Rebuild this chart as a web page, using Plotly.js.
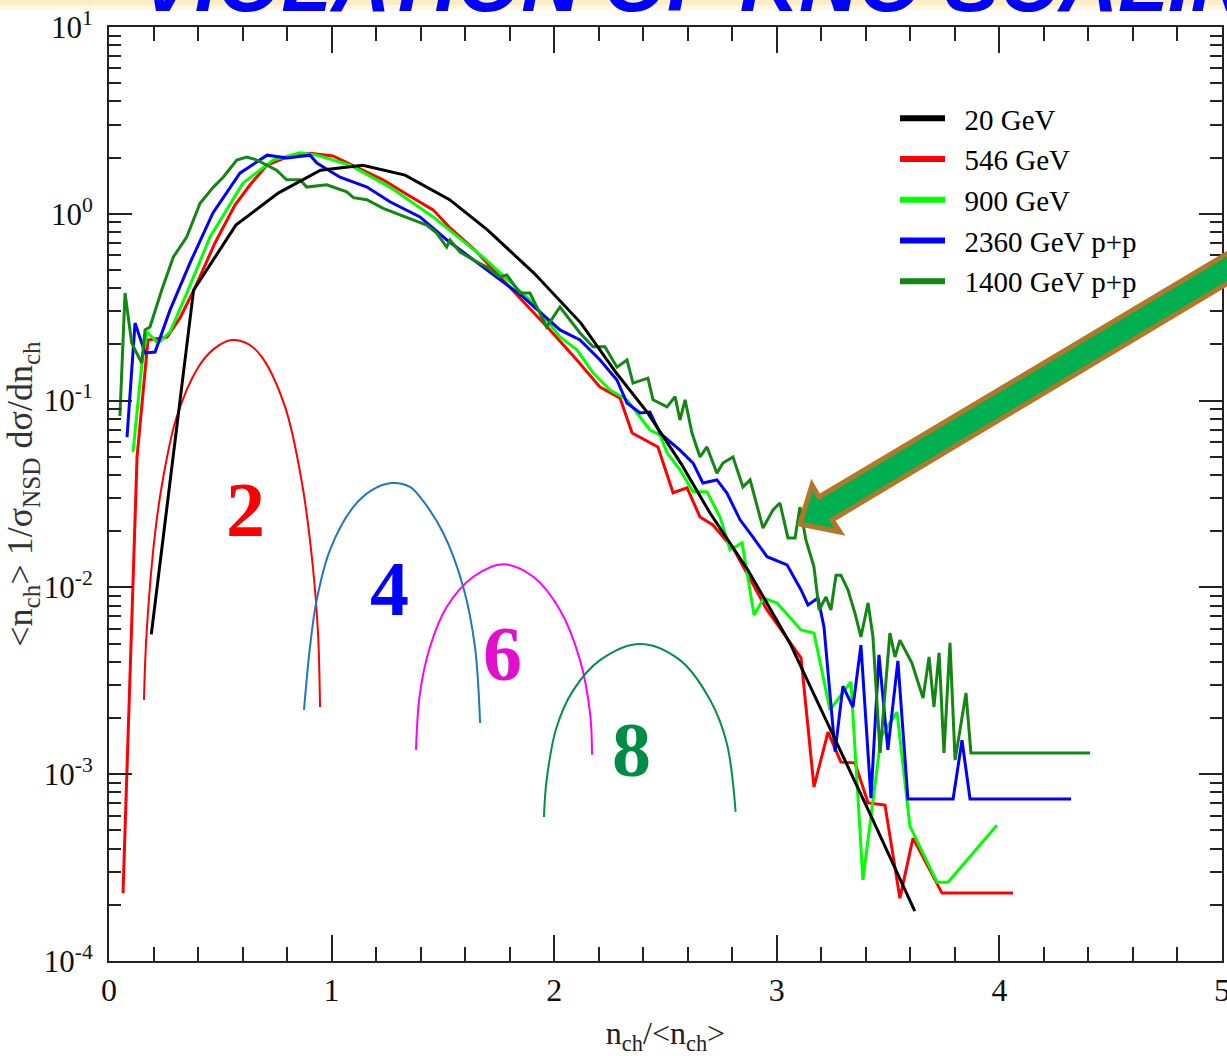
<!DOCTYPE html>
<html><head><meta charset="utf-8">
<script src="https://cdn.plot.ly/plotly-3.0.1.min.js"></script>
<style>html,body{margin:0;padding:0;background:#fff;overflow:hidden;} #chart{width:1227px;height:1056px;}</style>
</head><body><div id="chart"></div>
<script>
// ---------------- data ----------------
const seriesNames = ['20 GeV', '546 GeV', '900 GeV', '2360 GeV p+p', '1400 GeV p+p'];
const seriesColors = ['#000000', '#ff0000', '#00ff00', '#0000ff', '#138613'];

const x20 = [0.19, 0.38, 0.57, 0.76, 0.95, 1.14, 1.33, 1.53, 1.70, 1.91, 2.12, 2.28, 2.42, 2.57, 2.70, 2.87, 3.06, 3.24, 3.42, 3.62];
const y20 = [0.0056, 0.39, 0.87, 1.29, 1.71, 1.82, 1.61, 1.19, 0.82, 0.48, 0.26, 0.14, 0.086, 0.046, 0.025, 0.0124, 0.0050, 0.00175, 0.00061, 0.000185];

const x546 = [0.063, 0.126, 0.175, 0.220, 0.261, 0.319, 0.386, 0.476, 0.566, 0.633, 0.710, 0.791, 0.903, 1.006, 1.119, 1.231, 1.343, 1.456, 1.532, 1.644, 1.757, 1.869, 1.981, 2.094, 2.206, 2.296, 2.350, 2.466, 2.534, 2.597, 2.655, 2.713, 2.808, 2.956, 3.019, 3.109, 3.167, 3.230, 3.288, 3.351, 3.410, 3.486, 3.553, 3.612, 3.742, 4.061];
const y546 = [2.31e-4, 0.0499, 0.211, 0.216, 0.219, 0.277, 0.401, 0.698, 1.114, 1.426, 1.824, 1.99, 2.11, 2.04, 1.76, 1.52, 1.26, 1.05, 0.84, 0.64, 0.459, 0.333, 0.239, 0.169, 0.118, 0.103, 0.0671, 0.0565, 0.0321, 0.0341, 0.0238, 0.0216, 0.0159, 0.00757, 0.00592, 0.00419, 0.000855, 0.00168, 0.00116, 0.00115, 0.000702, 0.000684, 0.000217, 0.000455, 0.000231, 0.000231];

const x900 = [0.108, 0.148, 0.171, 0.220, 0.274, 0.350, 0.454, 0.602, 0.737, 0.858, 0.934, 1.083, 1.262, 1.456, 1.680, 1.905, 2.026, 2.102, 2.174, 2.251, 2.327, 2.385, 2.430, 2.475, 2.507, 2.565, 2.624, 2.686, 2.745, 2.790, 2.844, 2.898, 2.942, 3.001, 3.109, 3.167, 3.239, 3.333, 3.387, 3.468, 3.540, 3.598, 3.720, 3.769, 3.989];
const y900 = [0.0531, 0.159, 0.233, 0.203, 0.233, 0.377, 0.751, 1.46, 1.94, 2.12, 2.06, 1.82, 1.39, 0.962, 0.587, 0.333, 0.219, 0.187, 0.141, 0.114, 0.101, 0.0817, 0.0696, 0.0655, 0.0525, 0.0426, 0.0325, 0.0325, 0.0238, 0.0159, 0.0173, 0.00712, 0.00877, 0.00824, 0.00592, 0.00570, 0.00221, 0.00312, 0.000272, 0.00158, 0.00215, 0.000527, 0.000264, 0.000264, 0.000533];

const x2360 = [0.081, 0.117, 0.162, 0.207, 0.274, 0.364, 0.467, 0.588, 0.710, 0.800, 0.903, 0.934, 1.038, 1.159, 1.262, 1.397, 1.518, 1.680, 1.860, 2.026, 2.116, 2.206, 2.282, 2.327, 2.386, 2.430, 2.475, 2.565, 2.624, 2.668, 2.731, 2.776, 2.835, 2.893, 2.956, 3.046, 3.109, 3.140, 3.185, 3.212, 3.262, 3.297, 3.342, 3.378, 3.423, 3.459, 3.499, 3.544, 3.589, 3.792, 3.832, 3.868, 4.322];
const y2360 = [0.0638, 0.260, 0.180, 0.182, 0.305, 0.546, 1.01, 1.65, 2.06, 1.99, 2.06, 1.87, 1.57, 1.39, 1.16, 0.962, 0.724, 0.519, 0.359, 0.239, 0.211, 0.165, 0.129, 0.0970, 0.0859, 0.0869, 0.0670, 0.0543, 0.0463, 0.0362, 0.0376, 0.0320, 0.0230, 0.0186, 0.0146, 0.0132, 0.00969, 0.00805, 0.00877, 0.00614, 0.00132, 0.00296, 0.00229, 0.00491, 0.000745, 0.00435, 0.00135, 0.00404, 0.000736, 0.000736, 0.00152, 0.000736, 0.000736];

const x1400 = [0.049, 0.072, 0.102, 0.147, 0.162, 0.184, 0.237, 0.289, 0.349, 0.409,
  0.469, 0.513, 0.574, 0.619, 0.664, 0.753, 0.798, 0.858, 0.888, 0.978,
  1.068, 1.098, 1.158, 1.232, 1.307, 1.367, 1.427, 1.472, 1.517, 1.532,
  1.577, 1.637, 1.697, 1.756, 1.787, 1.846, 1.891, 1.966, 2.026, 2.071,
  2.116, 2.174, 2.228, 2.282, 2.327, 2.354, 2.421, 2.444, 2.507, 2.543,
  2.565, 2.588, 2.619, 2.655, 2.686, 2.731, 2.758, 2.803, 2.848, 2.880,
  2.938, 2.983, 3.014, 3.050, 3.082, 3.104, 3.131, 3.167, 3.190, 3.221,
  3.243, 3.266, 3.288, 3.320, 3.351, 3.378, 3.410, 3.432, 3.464, 3.508,
  3.531, 3.553, 3.607, 3.657, 3.684, 3.706, 3.729, 3.751, 3.778, 3.801,
  3.850, 3.872, 4.407];
const y1400 = [0.0826, 0.377, 0.203, 0.159, 0.239, 0.248, 0.391, 0.587, 0.751, 1.14,
  1.39, 1.57, 1.94, 2.01, 1.94, 1.71, 1.52, 1.52, 1.39, 1.43,
  1.31, 1.22, 1.19, 1.07, 0.986, 0.927, 0.871, 0.789, 0.664, 0.724,
  0.624, 0.566, 0.519, 0.459, 0.471, 0.377, 0.377, 0.248, 0.317, 0.270,
  0.230, 0.194, 0.194, 0.151, 0.165, 0.124, 0.132, 0.101, 0.0925, 0.105,
  0.0787, 0.101, 0.0670, 0.0499, 0.0565, 0.0409, 0.0463, 0.0499, 0.0345, 0.0376,
  0.0208, 0.0260, 0.0283, 0.0184, 0.0184, 0.0269, 0.0179, 0.0129, 0.00757, 0.00889,
  0.00757, 0.0116, 0.0116, 0.00969, 0.00729, 0.00543, 0.00826, 0.00543, 0.00130, 0.00570,
  0.00424, 0.00522, 0.00394, 0.00256, 0.00424, 0.00229, 0.00446, 0.00130, 0.00505, 0.00119,
  0.00272, 0.00130, 0.00130];

// illustrative arcs labelled 2, 4, 6, 8
const arcLabels = ['2', '4', '6', '8'];
const arcColors = ['#ff0000', '#1f77c0', '#ff00ff', '#00904a'];
const arcLabelColors = ['#ff0000', '#0000ff', '#e010cc', '#008c45'];
const arc2X = [0.157, 0.169, 0.207, 0.244, 0.304, 0.401, 0.476, 0.552, 0.624, 0.687, 0.791, 0.867, 0.916, 0.939, 0.948];
const arc2Y = [0.00250, 0.00570, 0.0195, 0.0390, 0.0817, 0.151, 0.191, 0.211, 0.201, 0.171, 0.0925, 0.0362, 0.0129, 0.00570, 0.00229];
const arc4X = [0.876, 0.903, 0.933, 0.993, 1.097, 1.181, 1.270, 1.352, 1.397, 1.502, 1.592, 1.644, 1.667];
const arc4Y = [0.00221, 0.00480, 0.00857, 0.0159, 0.0269, 0.0332, 0.0362, 0.0345, 0.0305, 0.0195, 0.0100, 0.00480, 0.00188];
const arc6X = [1.379, 1.397, 1.442, 1.517, 1.637, 1.771, 1.906, 2.026, 2.116, 2.161, 2.170];
const arc6Y = [0.00135, 0.00272, 0.00480, 0.00785, 0.0114, 0.0133, 0.0114, 0.00757, 0.00408, 0.00213, 0.00127];
const arc8X = [1.954, 1.966, 2.011, 2.086, 2.206, 2.385, 2.565, 2.700, 2.775, 2.815];
const arc8Y = [0.000590, 0.000931, 0.00179, 0.00282, 0.00408, 0.00498, 0.00408, 0.00250, 0.00147, 0.000628];

const yTickVals = [1e-4, 1e-3, 1e-2, 1e-1, 1, 10];
const yTickText = ['10<sup>-4</sup>', '10<sup>-3</sup>', '10<sup>-2</sup>', '10<sup>-1</sup>', '10<sup>0</sup>', '10<sup>1</sup>'];

// ---------------- layout helpers ----------------
const W = 1227, H = 1056, ML = 109, MR = 5, MT = 27, MB = 95;
const PW = W - ML - MR, PH = H - MT - MB;
const px2x = px => (px - ML) / PW;
const py2y = py => (H - MB - py) / PH;

const minorY = [];
for (let e = -4; e < 1; e++) for (let m = 2; m <= 9; m++) minorY.push(m * Math.pow(10, e));

const serif = 'Liberation Serif, Times New Roman, serif';
const seriesX = [x20, x546, x900, x2360, x1400];
const seriesY = [y20, y546, y900, y2360, y1400];
const drawOrder = [1, 2, 3, 4, 0];

const traces = [];
// arcs
[[arc2X, arc2Y], [arc4X, arc4Y], [arc6X, arc6Y], [arc8X, arc8Y]].forEach((a, i) => {
  traces.push({x: a[0], y: a[1], type: 'scatter', mode: 'lines', showlegend: false, hoverinfo: 'skip',
    line: {color: arcColors[i], width: 2, shape: 'spline', smoothing: 1}});
});
// data series
drawOrder.forEach(i => {
  traces.push({x: seriesX[i], y: seriesY[i], type: 'scatter', mode: 'lines', name: seriesNames[i],
    showlegend: false, line: {color: seriesColors[i], width: 3}});
});
// legend entries (thicker sample lines)
seriesNames.forEach((n, i) => {
  traces.push({x: [null], y: [null], type: 'scatter', mode: 'lines', name: '\u00a0\u00a0' + n, showlegend: true,
    line: {color: seriesColors[i], width: 6}});
});

// arrow (pixel geometry -> paper)
const arrowPx = [[800, 524], [812, 485], [819, 497], [1240, 246], [1253, 268], [832, 520], [840, 532]];
const arrowPath = 'M' + arrowPx.map(p => px2x(p[0]).toFixed(5) + ',' + py2y(p[1]).toFixed(5)).join(' L') + ' Z';

const labelPos = [[245.5, 509], [389, 588], [502.5, 653], [631, 749]];
const annotations = arcLabels.map((t, i) => ({
  xref: 'paper', yref: 'paper', x: px2x(labelPos[i][0]), y: py2y(labelPos[i][1]),
  xanchor: 'center', yanchor: 'middle', showarrow: false, text: t,
  font: {family: serif, size: 78, color: arcLabelColors[i], weight: 'bold'}
}));
// clipped slide title
annotations.push({xref: 'paper', yref: 'paper', x: px2x(138), y: py2y(-18), xanchor: 'left', yanchor: 'middle',
  showarrow: false, text: 'VIOLATION OF KNO SCALING',
  font: {family: 'Liberation Sans, Arial, sans-serif', size: 82, color: '#0000ff', weight: 'bold', style: 'italic'}});

const axisCommon = {
  showgrid: false, zeroline: false, showline: true, linecolor: '#222', linewidth: 2,
  mirror: 'ticks', ticks: 'inside', tickcolor: '#222', tickwidth: 2
};

const layout = {
  width: W, height: H,
  margin: {l: ML, r: MR, t: MT, b: MB, pad: 0},
  paper_bgcolor: '#ffffff', plot_bgcolor: '#ffffff',
  showlegend: true,
  legend: {x: px2x(895), xanchor: 'left', y: py2y(93), yanchor: 'top', bgcolor: 'rgba(0,0,0,0)',
    font: {family: serif, size: 29, color: '#000'}, itemwidth: 45, tracegroupgap: 0},
  xaxis: Object.assign({}, axisCommon, {
    range: [0, 5], tick0: 0, dtick: 1, ticklen: 26, ticklabelstandoff: 0, ticklabeloverflow: 'allow',
    tickfont: {family: serif, size: 32, color: '#111'},
    minor: {dtick: 0.2, tick0: 0, ticks: 'inside', ticklen: 14, tickwidth: 2, tickcolor: '#222', showgrid: false},
    title: {text: 'n<sub>ch</sub>/&lt;n<sub>ch</sub>&gt;', font: {family: serif, size: 32, color: '#222'}, standoff: 14}
  }),
  yaxis: Object.assign({}, axisCommon, {
    type: 'log', range: [-4, 1], tickmode: 'array', tickvals: yTickVals, ticktext: yTickText, ticklen: 23,
    ticklabelstandoff: 8, tickfont: {family: serif, size: 31, color: '#111'},
    minor: {tickmode: 'array', tickvals: minorY, ticks: 'inside', ticklen: 12, tickwidth: 2, tickcolor: '#222', showgrid: false},
    title: {text: '&lt;n<sub>ch</sub>&gt; 1/σ<sub>NSD</sub> dσ/dn<sub>ch</sub>', font: {family: serif, size: 36, color: '#333'}, standoff: 6}
  }),
  shapes: [
    {type: 'rect', xref: 'paper', yref: 'paper', x0: px2x(0), x1: px2x(W), y0: py2y(5), y1: py2y(0),
      fillcolor: 'rgba(250,236,190,0.9)', line: {width: 0}, layer: 'below'},
    {type: 'rect', xref: 'paper', yref: 'paper', x0: px2x(0), x1: px2x(W), y0: py2y(10), y1: py2y(5),
      fillcolor: 'rgba(252,244,215,0.7)', line: {width: 0}, layer: 'below'},
    {type: 'path', xref: 'paper', yref: 'paper', path: arrowPath, fillcolor: '#00b050',
      line: {color: '#b07828', width: 5}, layer: 'above'}
  ],
  annotations: annotations
};

Plotly.newPlot('chart', traces, layout, {displayModeBar: false, staticPlot: true});
</script>
</body></html>
